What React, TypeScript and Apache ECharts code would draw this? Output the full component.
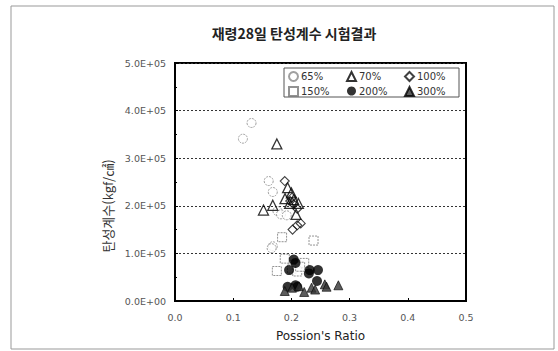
import React, { useEffect, useRef } from "react";
import * as echarts from "echarts";

const TITLE = "재령28일 탄성계수 시험결과";
const X_NAME = "Possion's Ratio";
const Y_NAME = "탄성계수(kgf/㎠)";
const SERIES_NAMES = ["65%", "70%", "100%", "150%", "200%", "300%"];

const s65: [number, number][] = [
  [0.1315, 374000], [0.1167, 341000], [0.161, 252000], [0.168, 229000],
  [0.176, 189000], [0.182, 182000], [0.192, 180000], [0.168, 115000], [0.166, 111000],
];
const s70: [number, number][] = [
  [0.175, 330000], [0.152, 191000], [0.168, 201000], [0.1935, 238000],
  [0.189, 215000], [0.2, 227000], [0.204, 213000], [0.208, 182000], [0.197, 205000], [0.212, 205000],
];
const s100: [number, number][] = [
  [0.1886, 252000], [0.198, 210000], [0.201, 217000], [0.204, 203000],
  [0.21, 194000], [0.202, 150000], [0.21, 159000], [0.216, 163000],
];
const s150: [number, number][] = [
  [0.184, 134000], [0.238, 127000], [0.1886, 89000], [0.175, 63000],
  [0.204, 76000], [0.222, 80000], [0.201, 68000], [0.21, 62000], [0.215, 72000],
];
const s200: [number, number][] = [
  [0.204, 87000], [0.207, 80000], [0.196, 65000], [0.2316, 65000], [0.2457, 65000],
  [0.23, 58000], [0.244, 42000], [0.1935, 30000], [0.207, 33000], [0.21, 30000],
];
const s300: [number, number][] = [
  [0.1886, 21000], [0.201, 28000], [0.213, 31000], [0.222, 19000], [0.2346, 28000],
  [0.2408, 24000], [0.2574, 35000], [0.2604, 30000], [0.2807, 33000],
];

const X_TICKS = [0, 0.1, 0.2, 0.3, 0.4, 0.5];

export default function App() {
  const ref = useRef<HTMLDivElement>(null);
  useEffect(() => {
    const chart = echarts.init(ref.current!, null, { renderer: "svg" });
    const font = "DejaVu Sans, sans-serif";
    const labelStyle = { fontFamily: font, fontSize: 9.5, color: "#555" };
    const legendCommon = {
      orient: "vertical" as const,
      top: 71,
      itemWidth: 9,
      itemHeight: 9,
      itemGap: 4,
      textStyle: { fontFamily: font, fontSize: 10, color: "#333", padding: [0, 0, 0, -2] },
      padding: 0,
    };
    const option: any = {
      animation: false,
      backgroundColor: "#fff",
      title: {
        text: TITLE,
        left: 289,
        top: 21,
        textAlign: "center",
        textStyle: { fontFamily: "Noto Sans CJK KR", fontSize: 14, fontWeight: "bold", color: "#222" },
      },
      grid: { left: 175, right: 92, top: 63, bottom: 50, show: true, borderColor: "#000", borderWidth: 2, backgroundColor: "transparent" },
      legend: [
        { ...legendCommon, left: 288, data: [SERIES_NAMES[0], SERIES_NAMES[3]] },
        { ...legendCommon, left: 346, data: [SERIES_NAMES[1], SERIES_NAMES[4]] },
        { ...legendCommon, left: 404, data: [SERIES_NAMES[2], SERIES_NAMES[5]] },
      ],
      graphic: [
        { type: "rect", shape: { x: 11, y: 6, width: 543, height: 343 }, style: { fill: "none", stroke: "#999", lineWidth: 1 }, z: -1 },
        { type: "rect", shape: { x: 284, y: 68, width: 175, height: 29 }, style: { fill: "#fff", stroke: "#555", lineWidth: 1 }, z: 1 },
        {
          type: "text",
          x: 107,
          y: 206,
          rotation: Math.PI / 2,
          style: { text: Y_NAME, fontFamily: "Noto Sans CJK KR", fontSize: 13, fill: "#333", align: "center", verticalAlign: "middle" },
        },
      ],
      xAxis: {
        type: "value",
        min: 0,
        max: 0.5,
        interval: 0.1,
        name: X_NAME,
        nameLocation: "middle",
        nameGap: 29,
        nameTextStyle: { fontFamily: font, fontSize: 12, color: "#222" },
        axisLine: { show: true, lineStyle: { color: "#000", width: 2 } },
        axisTick: { show: true, inside: true, length: 3, lineStyle: { color: "#000" } },
        axisLabel: { ...labelStyle, margin: 11, formatter: (v: number) => (X_TICKS.includes(Math.round(v * 10) / 10) ? v.toFixed(1) : "") },
        splitLine: { show: false },
      },
      yAxis: {
        type: "value",
        min: 0,
        max: 500000,
        interval: 100000,
        axisLine: { show: true, lineStyle: { color: "#000", width: 2 } },
        axisTick: { show: true, inside: true, length: 3, lineStyle: { color: "#000" } },
        minorTick: { show: true, splitNumber: 2, length: 2, lineStyle: { color: "#000" } },
        axisLabel: {
          ...labelStyle,
          margin: 9,
          formatter: (v: number) => (v === 0 ? "0.0E+00" : (v / 100000).toFixed(1) + "E+05"),
        },
        splitLine: { show: true, lineStyle: { color: "#333", type: [2, 2], width: 1 } },
      },
      series: [
        {
          name: SERIES_NAMES[0], type: "scatter", data: s65, symbol: "circle", symbolSize: 9,
          itemStyle: { color: "#fff", borderColor: "#888", borderWidth: 1, borderType: [2, 1] }, z: 3,
        },
        {
          name: SERIES_NAMES[1], type: "scatter", data: s70, symbol: "triangle", symbolSize: 10,
          itemStyle: { color: "rgba(255,255,255,0)", borderColor: "#000", borderWidth: 1.3 }, z: 4,
        },
        {
          name: SERIES_NAMES[2], type: "scatter", data: s100, symbol: "diamond", symbolSize: 9,
          itemStyle: { color: "rgba(255,255,255,0)", borderColor: "#111", borderWidth: 1.1 }, z: 4,
        },
        {
          name: SERIES_NAMES[3], type: "scatter", data: s150, symbol: "rect", symbolSize: 9,
          itemStyle: { color: "#fff", borderColor: "#777", borderWidth: 1, borderType: [2, 1] }, z: 3,
        },
        {
          name: SERIES_NAMES[4], type: "scatter", data: s200, symbol: "circle", symbolSize: 10,
          itemStyle: { color: "#000", borderColor: "#000", borderWidth: 0 }, z: 5,
        },
        {
          name: SERIES_NAMES[5], type: "scatter", data: s300, symbol: "triangle", symbolSize: 9,
          itemStyle: { color: "#333", borderColor: "#000", borderWidth: 0.8 }, z: 5,
        },
      ],
    };
    chart.setOption(option);
    return () => chart.dispose();
  }, []);
  return <div ref={ref} style={{ position: "fixed", left: 0, top: 0, width: 558, height: 351 }} />;
}
